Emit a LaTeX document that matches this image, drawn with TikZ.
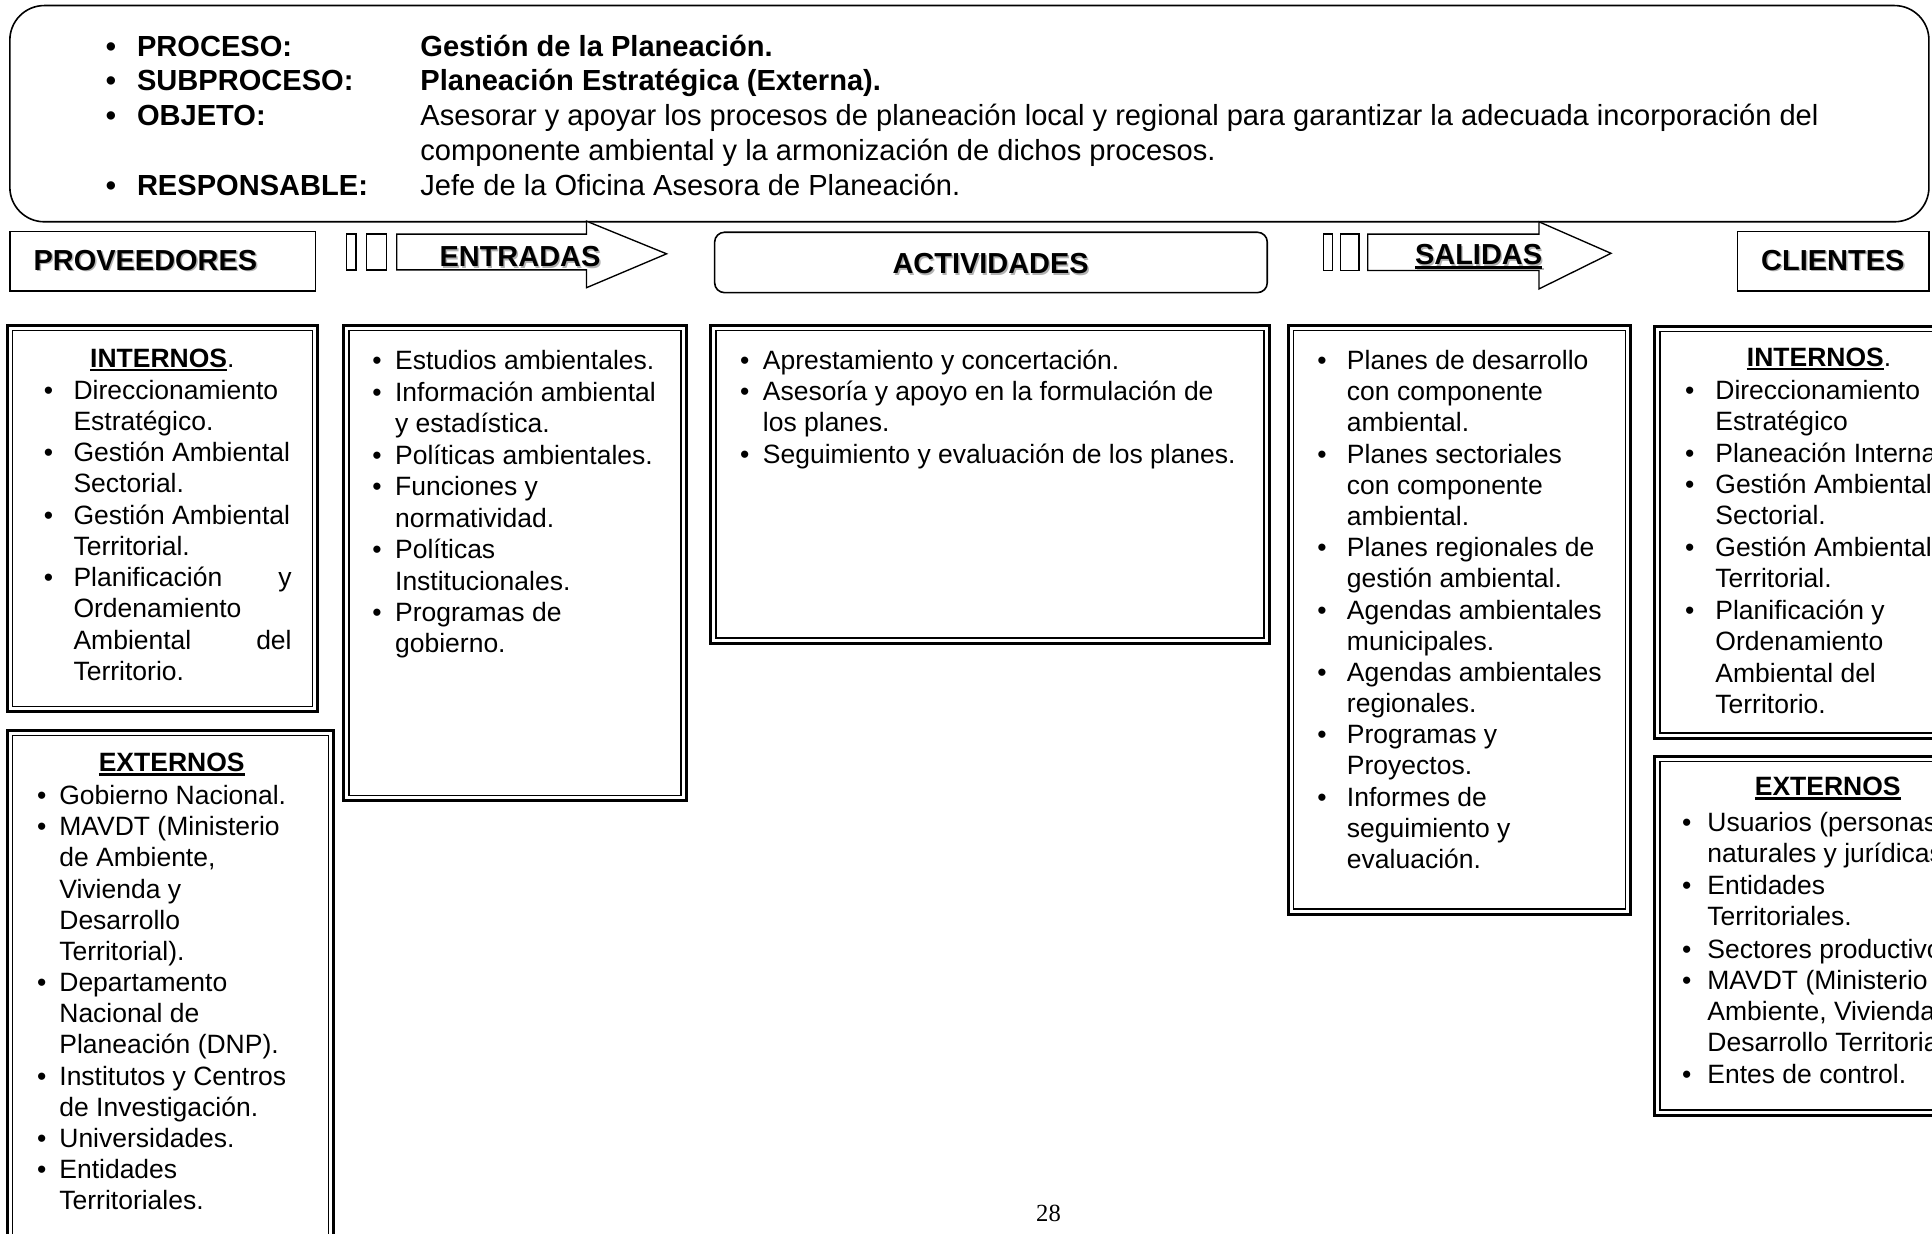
\documentclass[tikz,border=0pt]{standalone}
\usepackage{fontspec}
\setmainfont{Liberation Sans}
\newfontfamily\pagefont{Liberation Serif}
\newcommand\bodyfs{\fontsize{21.5}{25.3}\selectfont}
\newcommand\headfs{\fontsize{23.6}{28}\selectfont}
\newcommand\titlefs{\fontsize{23.5}{28}\selectfont\bfseries}
\newcommand\myul[1]{\setbox0=\hbox{#1}\rlap{\rule[-3pt]{\wd0}{1.8pt}}\box0}
\newcommand\shtext[1]{\rlap{\hspace{1.2pt}\raisebox{-1.2pt}{\textcolor{black!30}{#1}}}#1}
\def\bg{11}
\newcommand\bul{\llap{\textbullet\hspace{\bg pt}}}
\newcommand\tribox[4]{%
  \draw[line width=2.4pt] (#1,#2) rectangle (#3,#4);
  \draw[line width=1.1pt] ({#1+4.2},{#2+4.2}) rectangle ({#3-4.2},{#4-4.2});}
\begin{document}
\begin{tikzpicture}[x=1pt,y=-1pt,
  txt/.style={anchor=base west,inner sep=0pt,font=\bodyfs},
  htxt/.style={anchor=base west,inner sep=0pt,font=\headfs},
  ttl/.style={anchor=base,inner sep=0pt,font=\titlefs},
  frame/.style={draw,line width=1.3pt},
  arr/.style={draw,line width=1.1pt,fill=white}]
\useasboundingbox (0,0) rectangle (1568,1001);
\clip (0,0) rectangle (1568,1001);

% ---------- header box
\draw[frame,rounded corners=28pt] (8,4.5) rectangle (1565.5,180);
\def\bg{17}
\node[htxt,font=\headfs\bfseries] (l1) at (111,45.5) {\bul PROCESO:};
\node[htxt,font=\headfs\bfseries] (v1) at (341,45.5) {Gestión de la Planeación.};
\node[htxt,font=\headfs\bfseries] (l2) at (111,73.75) {\bul SUBPROCESO:};
\node[htxt,font=\headfs\bfseries] (v2) at (341,73.75) {Planeación Estratégica (Externa).};
\node[htxt,font=\headfs\bfseries] (l3) at (111,102) {\bul OBJETO:};
\node[htxt] (v3) at (341,102) {Asesorar y apoyar los procesos de planeación local y regional para garantizar la adecuada incorporación del};
\node[htxt] (v3b) at (341,130.25) {componente ambiental y la armonización de dichos procesos.};
\node[htxt,font=\headfs\bfseries] (l4) at (111,158.5) {\bul RESPONSABLE:};
\node[htxt] (v4) at (341,158.5) {Jefe de la Oficina Asesora de Planeación.};

% ---------- title row
\draw[frame] (8,188) rectangle (256,236);
\node[ttl] (tprov) at (118,219.5) {\shtext{PROVEEDORES}};

\draw[arr] (281,190) rectangle (289,219);
\draw[arr] (297.5,190) rectangle (313.8,219);
\draw[arr] (322,190) -- (476,190) -- (476,179.5) -- (541,206) -- (476,233.5) -- (476,219) -- (322,219) -- cycle;
\node[ttl] (tent) at (422,216.5) {\shtext{ENTRADAS}};

\draw[frame,rounded corners=8pt] (580,188.5) rectangle (1028.5,237.5);
\node[ttl] (tact) at (804,222) {\shtext{ACTIVIDADES}};

\draw[arr] (1074,190) rectangle (1081.6,219.5);
\draw[arr] (1088,190) rectangle (1103,219.5);
\draw[arr] (1110,190) -- (1249,190) -- (1249,180) -- (1307.5,205.6) -- (1249,234.5) -- (1249,219.5) -- (1110,219.5) -- cycle;
\node[ttl] (tsal) at (1200,215) {\shtext{\myul{SALIDAS}}};

\draw[frame] (1410,188) rectangle (1565.5,236);
\node[ttl] (tcli) at (1487.5,219.5) {\shtext{CLIENTES}};

% ---------- column boxes
\tribox{6}{264}{258}{577.5}
\tribox{6}{592.5}{271}{1006}
\tribox{279}{264}{557}{650}
\tribox{577}{264}{1030}{522}
\tribox{1045.5}{264}{1323.5}{742}
\tribox{1343}{265}{1600}{599}
\tribox{1343}{614}{1600}{905}

% ---------- column 1: internos
\node[txt] (p1h) at (73,298) {\myul{\bfseries INTERNOS}.};
\def\bg{16.5}
\foreach \t [count=\i from 0] in {
  {\bul Direccionamiento},{Estratégico.},
  {\bul Gestión Ambiental},{Sectorial.},
  {\bul Gestión Ambiental},{Territorial.},
  {\bul\makebox[177pt][s]{Planificación\hfill y}},{Ordenamiento},
  {\makebox[177pt][s]{Ambiental\hfill del}},{Territorio.}}
  \node[txt] (p1l\i) at (59.5,{324+25.35*\i}) {\t};

% ---------- column 1: externos
\node[txt] (p2h) at (80,626.5) {\myul{\bfseries EXTERNOS}};
\def\bg{10.6}
\foreach \t [count=\i from 0] in {
  {\bul Gobierno Nacional.},{\bul MAVDT (Ministerio},{de Ambiente,},{Vivienda y},
  {Desarrollo},{Territorial).},{\bul Departamento},{Nacional de},
  {Planeación (DNP).},{\bul Institutos y Centros},{de Investigación.},
  {\bul Universidades.},{\bul Entidades},{Territoriales.}}
  \node[txt] (p2l\i) at (48,{653+25.3*\i}) {\t};

% ---------- entradas
\def\bg{11}
\foreach \t [count=\i from 0] in {
  {\bul Estudios ambientales.},{\bul Información ambiental},{y estadística.},
  {\bul Políticas ambientales.},{\bul Funciones y},{normatividad.},
  {\bul Políticas},{Institucionales.},{\bul Programas de},{gobierno.}}
  \node[txt] (el\i) at (320.5,{300+25.55*\i}) {\t};

% ---------- actividades
\def\bg{11}
\foreach \t [count=\i from 0] in {
  {\bul Aprestamiento y concertación.},
  {\bul Asesoría y apoyo en la formulación de},{los planes.},
  {\bul Seguimiento y evaluación de los planes.}}
  \node[txt] (al\i) at (619,{300+25.3*\i}) {\t};

% ---------- salidas
\def\bg{16.5}
\foreach \t [count=\i from 0] in {
  {\bul Planes de desarrollo},{con componente},{ambiental.},
  {\bul Planes sectoriales},{con componente},{ambiental.},
  {\bul Planes regionales de},{gestión ambiental.},
  {\bul Agendas ambientales},{municipales.},
  {\bul Agendas ambientales},{regionales.},
  {\bul Programas y},{Proyectos.},
  {\bul Informes de},{seguimiento y},{evaluación.}}
  \node[txt] (sl\i) at (1093,{300+25.3*\i}) {\t};

% ---------- clientes internos
\node[txt] (c1h) at (1417.6,297.6) {\myul{\bfseries INTERNOS}.};
\def\bg{17}
\foreach \t [count=\i from 0] in {
  {\bul Direccionamiento},{Estratégico},{\bul Planeación Interna.},
  {\bul Gestión Ambiental},{Sectorial.},{\bul Gestión Ambiental},{Territorial.},
  {\bul Planificación y},{Ordenamiento},{Ambiental del},{Territorio.}}
  \node[txt] (c1l\i) at (1392,{324+25.5*\i}) {\t};

% ---------- clientes externos
\node[txt] (c2h) at (1424,646) {\myul{\bfseries EXTERNOS}};
\def\bg{13}
\foreach \y/\t [count=\i from 0] in {
  675/{\bul Usuarios (personas},700/{naturales y jurídicas).},
  726/{\bul Entidades},751/{Territoriales.},
  778/{\bul Sectores productivos.},
  803/{\bul MAVDT (Ministerio de},828/{Ambiente, Vivienda y},853/{Desarrollo Territorial).},
  879/{\bul Entes de control.}}
  \node[txt] (c2l\i) at (1385.5,\y) {\t};

% ---------- page number
\node[anchor=base,inner sep=0pt,font=\pagefont\fontsize{20}{24}\selectfont] (pg) at (851,991.5) {28};
\end{tikzpicture}
\end{document}
